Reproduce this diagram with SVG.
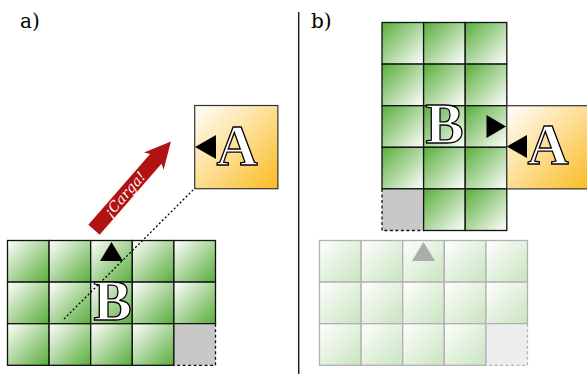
<svg xmlns="http://www.w3.org/2000/svg" xmlns:xlink="http://www.w3.org/1999/xlink" width="587" height="374" viewBox="0 0 587 374">
<defs>
<linearGradient id="gG" x1="0" y1="0" x2="1" y2="1"><stop offset="0" stop-color="#ffffff"/><stop offset="1" stop-color="#58ad3a"/></linearGradient>
<linearGradient id="gG2" x1="0" y1="0" x2="1" y2="1"><stop offset="0" stop-color="#58ad3a"/><stop offset="1" stop-color="#ffffff"/></linearGradient>
<linearGradient id="gO" x1="0" y1="0" x2="1" y2="1"><stop offset="0" stop-color="#ffffff"/><stop offset="1" stop-color="#fbbb22"/></linearGradient>
<style>
.c{fill:url(#gG);stroke:#111;stroke-width:1.3}
.c2{fill:url(#gG2);stroke:#111;stroke-width:1.3}
.gr{fill:#c8c8c8;stroke:none}
.ds{stroke:#111;stroke-width:1.3;stroke-dasharray:3 2.5;fill:none}
.box{fill:url(#gO);stroke:#333;stroke-width:1.2}
.let{font-family:"Liberation Serif",serif;font-weight:bold;font-size:57px;fill:#fff;stroke:#000;stroke-width:1.3;text-anchor:middle}
.lab{font-family:"DejaVu Serif",serif;font-size:20px;fill:#000}
.tri{fill:#000}
</style>
</defs>
<text class="lab" x="20" y="28">a)</text>
<text class="lab" x="311" y="28">b)</text>
<line x1="298.7" y1="12" x2="298.7" y2="374" stroke="#222" stroke-width="1.5"/>

<g id="gridB_a">
<g id="cellsA">
<rect class="c" x="7.5" y="240.5" width="41.6" height="41.6"/>
<rect class="c" x="49.1" y="240.5" width="41.6" height="41.6"/>
<rect class="c" x="90.7" y="240.5" width="41.6" height="41.6"/>
<rect class="c" x="132.3" y="240.5" width="41.6" height="41.6"/>
<rect class="c" x="173.9" y="240.5" width="41.6" height="41.6"/>
<rect class="c" x="7.5" y="282.1" width="41.6" height="41.6"/>
<rect class="c" x="49.1" y="282.1" width="41.6" height="41.6"/>
<rect class="c" x="90.7" y="282.1" width="41.6" height="41.6"/>
<rect class="c" x="132.3" y="282.1" width="41.6" height="41.6"/>
<rect class="c" x="173.9" y="282.1" width="41.6" height="41.6"/>
<rect class="c" x="7.5" y="323.7" width="41.6" height="41.6"/>
<rect class="c" x="49.1" y="323.7" width="41.6" height="41.6"/>
<rect class="c" x="90.7" y="323.7" width="41.6" height="41.6"/>
<rect class="c" x="132.3" y="323.7" width="41.6" height="41.6"/>
<rect class="gr" x="173.9" y="323.7" width="41.6" height="41.6"/>
<line x1="173.9" y1="323.7" x2="173.9" y2="365.3" stroke="#111" stroke-width="1.3"/>
<line x1="173.9" y1="323.7" x2="215.5" y2="323.7" stroke="#111" stroke-width="1.3"/>
<polyline class="ds" points="215.5,323.7 215.5,365.3 173.9,365.3"/>
<polygon class="tri" points="111.5,242 100,261 123,261"/>
</g>
</g>

<g id="connectors">
<line x1="64" y1="319" x2="195" y2="188" stroke="#000" stroke-width="1.3" stroke-dasharray="2 2.2"/>
</g>

<g id="labelB_a">
<text class="let" x="112.5" y="320">B</text>
</g>

<g id="nodeA_a">
<rect class="box" x="194.7" y="105.5" width="83.2" height="83.2"/>
<polygon class="tri" points="195,147 216,135 216,159"/>
<text class="let" x="237" y="165">A</text>
</g>

<g id="arrow" transform="translate(94 229.7) rotate(-48.9)">
<path d="M0,-7.5 L94,-7.5 L91,-13 L117,0 L91,13 L94,7.5 L0,7.5 Z" fill="#b11212"/>
<text x="47" y="4.8" font-family="DejaVu Serif, serif" font-style="italic" font-size="14" fill="#fff" text-anchor="middle">¡Carga!</text>
</g>

<g id="ghost" opacity="0.32" transform="translate(312 0)">
<use xlink:href="#cellsA"/>
</g>

<g id="gridB_b">
<rect class="c2" x="382" y="22.5" width="41.6" height="41.6"/>
<rect class="c2" x="423.6" y="22.5" width="41.6" height="41.6"/>
<rect class="c2" x="465.2" y="22.5" width="41.6" height="41.6"/>
<rect class="c2" x="382" y="64.1" width="41.6" height="41.6"/>
<rect class="c2" x="423.6" y="64.1" width="41.6" height="41.6"/>
<rect class="c2" x="465.2" y="64.1" width="41.6" height="41.6"/>
<rect class="c2" x="382" y="105.7" width="41.6" height="41.6"/>
<rect class="c2" x="423.6" y="105.7" width="41.6" height="41.6"/>
<rect class="c2" x="465.2" y="105.7" width="41.6" height="41.6"/>
<rect class="c2" x="382" y="147.3" width="41.6" height="41.6"/>
<rect class="c2" x="423.6" y="147.3" width="41.6" height="41.6"/>
<rect class="c2" x="465.2" y="147.3" width="41.6" height="41.6"/>
<rect class="gr" x="382" y="188.9" width="41.6" height="41.6"/>
<rect class="c2" x="423.6" y="188.9" width="41.6" height="41.6"/>
<rect class="c2" x="465.2" y="188.9" width="41.6" height="41.6"/>
<line x1="382" y1="188.9" x2="423.6" y2="188.9" stroke="#111" stroke-width="1.3"/>
<polyline class="ds" points="382,188.9 382,230.5 423.6,230.5"/>
<polygon class="tri" points="506,126.5 486.5,115 486.5,138"/>
<text class="let" x="444.5" y="143">B</text>
</g>

<g id="nodeA_b">
<rect class="box" x="506.8" y="105.7" width="83.2" height="83.2"/>
<polygon class="tri" points="506.8,146.5 527,135 527,158"/>
<text class="let" x="548" y="164">A</text>
</g>
</svg>
